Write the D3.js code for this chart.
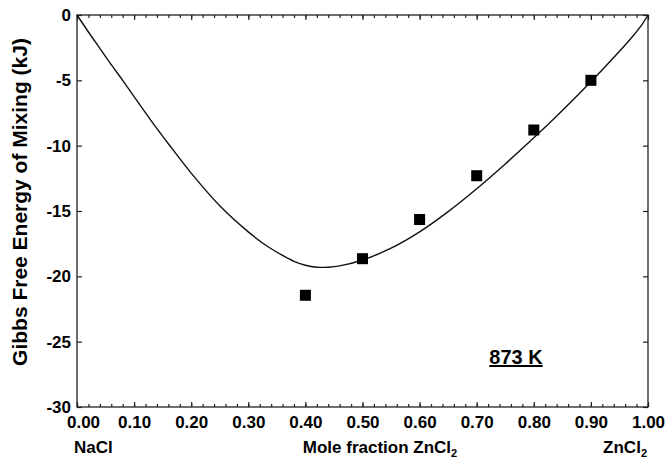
<!DOCTYPE html>
<html>
<head>
<meta charset="utf-8">
<script src="https://cdn.jsdelivr.net/npm/d3@7"></script>
<style>
  body { margin: 0; background: #fff; }
  text { font-family: "Liberation Sans", Arial, sans-serif; font-weight: bold; fill: #000; }
</style>
</head>
<body>
<svg id="chart" width="665" height="459"></svg>
<script>
// model curve (mole fraction ZnCl2 -> kJ)
const curveX = [0, 0.02, 0.04, 0.06, 0.08, 0.10, 0.13, 0.16, 0.20, 0.25, 0.30, 0.33, 0.36, 0.38, 0.40, 0.42, 0.44, 0.46, 0.50,
                0.55, 0.60, 0.65, 0.70, 0.75, 0.80, 0.85, 0.90, 0.94, 0.97, 0.99, 1.00];
const curveY = [0, -1.3, -2.55, -3.8, -5.0, -6.25, -8.1, -9.85, -12.1, -14.6, -16.6, -17.6, -18.4, -18.85, -19.15, -19.3, -19.3, -19.2, -18.75,
                -17.85, -16.6, -15.05, -13.3, -11.4, -9.4, -7.3, -5.1, -3.25, -1.8, -0.7, 0];
// measured points
const pointX = [0.4, 0.5, 0.6, 0.7, 0.8, 0.9];
const pointY = [-21.45, -18.65, -15.65, -12.3, -8.8, -5.0];

const xTicks = [0, 0.1, 0.2, 0.3, 0.4, 0.5, 0.6, 0.7, 0.8, 0.9, 1.0];
const xMinor = d3.range(0, 51).map(i => i / 50);
const yTicks = [0, -5, -10, -15, -20, -25, -30];

const svg = d3.select('#chart');
const plotL = 77, plotR = 648, plotT = 15, plotB = 407;

const x = d3.scaleLinear().domain([0, 1]).range([plotL, plotR]);
const y = d3.scaleLinear().domain([-30, 0]).range([plotB, plotT]);

// frame
svg.append('rect')
  .attr('x', plotL).attr('y', plotT)
  .attr('width', plotR - plotL).attr('height', plotB - plotT)
  .attr('fill', 'none').attr('stroke', '#222').attr('stroke-width', 1.3);

function styleAxis(g) {
  g.select('.domain').remove();
  g.selectAll('line').attr('stroke', '#222').attr('stroke-width', 1.2);
  g.selectAll('text').style('font-size', '17px').attr('fill', '#000');
}

// bottom
svg.append('g').attr('transform', `translate(0,${plotB})`)
  .call(d3.axisBottom(x).tickValues(xMinor).tickSize(-3).tickFormat(''))
  .call(styleAxis);
svg.append('g').attr('id', 'x-axis').attr('transform', `translate(0,${plotB})`)
  .call(d3.axisBottom(x).tickValues(xTicks).tickSizeInner(-5).tickSizeOuter(0).tickPadding(9).tickFormat(d3.format('.2f')))
  .call(styleAxis)
  .call(g => g.selectAll('.tick text').filter(d => d === 0).attr('x', 6)); // first label sits right of the corner
// top
svg.append('g').attr('transform', `translate(0,${plotT})`)
  .call(d3.axisTop(x).tickValues(xMinor).tickSize(-3).tickFormat(''))
  .call(styleAxis);
svg.append('g').attr('transform', `translate(0,${plotT})`)
  .call(d3.axisTop(x).tickValues(xTicks).tickSize(-5).tickFormat(''))
  .call(styleAxis);
// left
svg.append('g').attr('id', 'y-axis').attr('transform', `translate(${plotL},0)`)
  .call(d3.axisLeft(y).tickValues(yTicks).tickSizeInner(-5).tickSizeOuter(0).tickPadding(6).tickFormat(d => String(d)))
  .call(styleAxis);
// right
svg.append('g').attr('transform', `translate(${plotR},0)`)
  .call(d3.axisRight(y).tickValues(yTicks).tickSize(-5).tickFormat(''))
  .call(styleAxis);

// curve
const line = d3.line()
  .x((d, i) => x(curveX[i]))
  .y((d, i) => y(curveY[i]))
  .curve(d3.curveCatmullRom.alpha(0.5));
svg.append('path')
  .datum(curveX)
  .attr('d', line)
  .attr('fill', 'none')
  .attr('stroke', '#111')
  .attr('stroke-width', 1.4);

// squares
const size = 11;
svg.selectAll('rect.pt')
  .data(pointX)
  .enter()
  .append('rect')
  .attr('class', 'pt')
  .attr('x', d => x(d) - size / 2)
  .attr('y', (d, i) => y(pointY[i]) - size / 2)
  .attr('width', size)
  .attr('height', size)
  .attr('fill', '#000');

// labels
svg.append('text')
  .attr('transform', `translate(27,202) rotate(-90)`)
  .attr('text-anchor', 'middle')
  .style('font-size', '21px')
  .text('Gibbs Free Energy of Mixing (kJ)');

svg.append('text').attr('x', 74).attr('y', 453).style('font-size', '17px').text('NaCl');

const mid = svg.append('text').attr('x', 380).attr('y', 453).attr('text-anchor', 'middle').style('font-size', '17px');
mid.append('tspan').text('Mole fraction ZnCl');
mid.append('tspan').attr('dy', 4).style('font-size', '11px').text('2');

const zn = svg.append('text').attr('x', 647).attr('y', 453).attr('text-anchor', 'end').style('font-size', '17px');
zn.append('tspan').text('ZnCl');
zn.append('tspan').attr('dy', 4).style('font-size', '11px').text('2');

svg.append('text')
  .attr('x', 516).attr('y', 364)
  .attr('text-anchor', 'middle')
  .attr('text-decoration', 'underline')
  .style('font-size', '20px')
  .text('873 K');
</script>
</body>
</html>
